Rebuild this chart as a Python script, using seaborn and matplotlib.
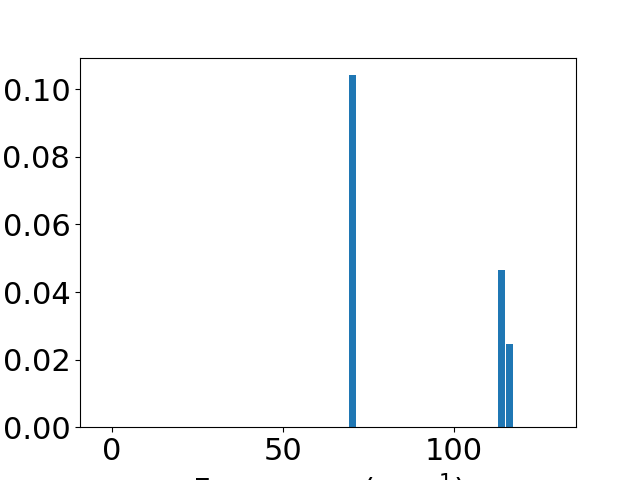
import pandas as pd
import seaborn as sns
import matplotlib
matplotlib.use("Agg")
import matplotlib.pyplot as plt

# ============================================
# DATA
# ============================================

frequencies = [70.6, 113.9, 116.2]
intensities = [0.1042, 0.0465, 0.0246]
bin_width = 2.3
bin_range = (0.45, 128.95)

df = pd.DataFrame({"freq": frequencies, "intensity": intensities})

# ============================================
# PLOT
# ============================================

plt.rcParams["font.size"] = 22

fig, ax = plt.subplots(figsize=(6.4, 4.8), dpi=100)

sns.histplot(
    data=df,
    x="freq",
    weights="intensity",
    binwidth=bin_width,
    binrange=bin_range,
    shrink=0.88,
    color="#1f77b4",
    alpha=1.0,
    linewidth=0,
    ax=ax
)

ax.set_xlim(-9.36, 135.7)
ax.set_ylim(0, 0.1094)
ax.set_xlabel("Frequency (cm$^{-1}$)")
ax.set_ylabel("")

plt.savefig("out.png", dpi=100)
